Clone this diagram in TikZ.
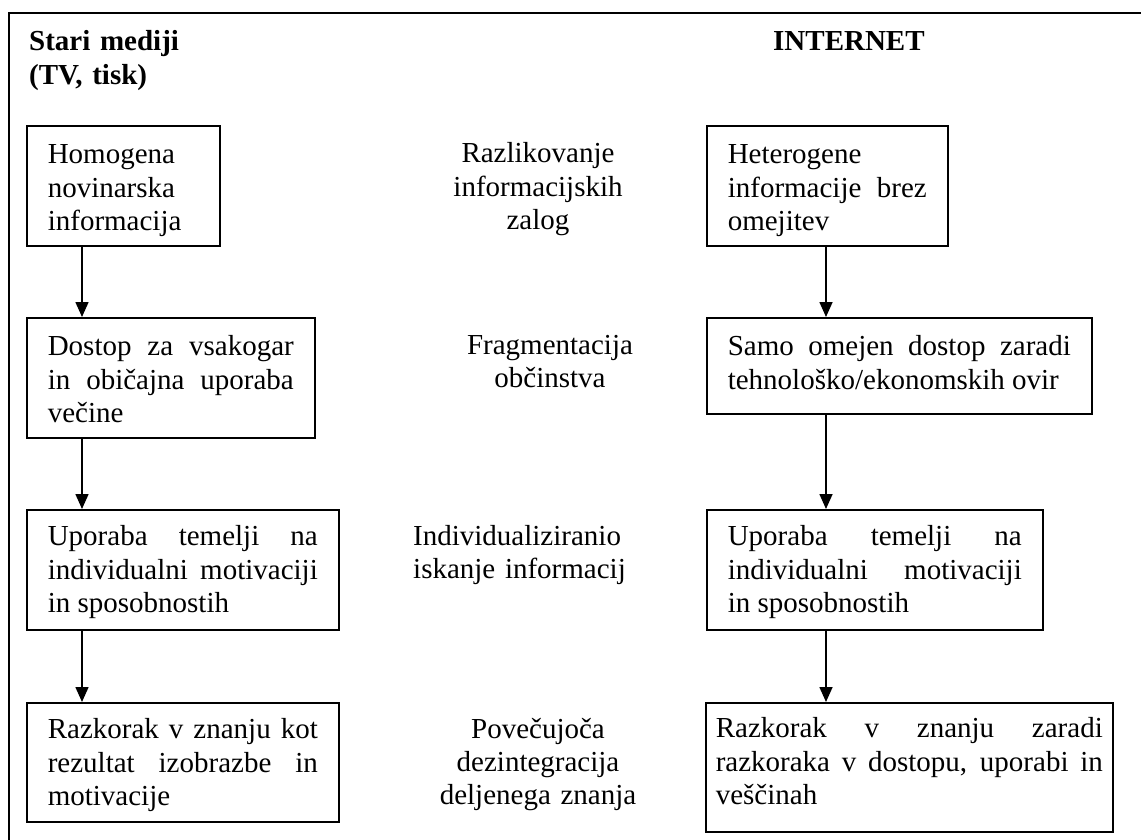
\documentclass[tikz,border=0pt]{standalone}
\usepackage{fontspec}
\setmainfont{Liberation Serif}
\usetikzlibrary{arrows.meta}
\begin{document}
\begin{tikzpicture}[x=1pt,y=-1pt,
  txt/.style={font={\fontsize{29}{33.3}\selectfont\tolerance=10000\hbadness=10000\hyphenpenalty=10000}, inner sep=0pt},
  head/.style={txt, font={\fontsize{29}{33.3}\selectfont\bfseries}, text width=250pt, align=left, anchor=base west},
  mid/.style={txt, text width=250pt, align=center, anchor=base},
  box/.style={txt, draw, line width=1.6pt, anchor=north west, inner xsep=21pt, inner ysep=0pt, align=justify},
  arr/.style={line width=1.6pt, -{Triangle[width=13pt,length=15pt]}},
  frame/.style={line width=1.6pt}
]
\useasboundingbox (0,0) rectangle (1141,840);
\draw[frame] (9,840) -- (9,13) -- (1141,13);

\node[head] (hl) at (29,51) {Stari mediji\\(TV, tisk)};
\node[head] (hr) at (773,51) {INTERNET};

% left column
\node[box, text width=151pt, text height=38pt, text depth=82pt] (L1) at (26,125)
  {Homogena\\novinarska\\informacija};
\node[box, text width=246pt, text height=38pt, text depth=82pt] (L2) at (26,317)
  {Dostop za vsakogar\linebreak in običajna uporaba\linebreak večine};
\node[box, text width=270pt, text height=36pt, text depth=84pt] (L3) at (26,509)
  {Uporaba temelji na\linebreak individualni motivaciji\linebreak in sposobnostih};
\node[box, text width=270pt, text height=36pt, text depth=83pt] (L4) at (26,702)
  {Razkorak v znanju kot\linebreak rezultat izobrazbe in\linebreak motivacije};

% right column
\node[box, text width=199pt, text height=38pt, text depth=82pt] (R1) at (706,125)
  {Heterogene\\informacije brez\linebreak omejitev};
\node[box, text width=343pt, text height=38pt, text depth=58pt] (R2) at (706,317)
  {Samo omejen dostop zaradi\linebreak tehnološko/ekonomskih ovir};
\node[box, text width=294pt, text height=36pt, text depth=84pt] (R3) at (706,509)
  {Uporaba temelji na\linebreak individualni motivaciji\linebreak in sposobnostih};
\node[box, inner xsep=10pt, text width=387pt, text height=35pt, text depth=94pt] (R4) at (705,702)
  {\rightskip=10pt Razkorak v znanju zaradi\linebreak razkoraka v dostopu, uporabi in\linebreak veščinah};

% middle labels
\node[mid] (M1) at (538,163) {Razlikovanje\\informacijskih\\zalog};
\node[mid] (M2) at (550,354) {Fragmentacija\\občinstva};
\node[txt, text width=230pt, align=left, anchor=base west] (M3) at (413,545) {Individualiziranio\\iskanje informacij};
\node[mid] (M4) at (538,738) {Povečujoča\\dezintegracija\\deljenega znanja};

% connectors
\coordinate (lx) at (82,0);
\coordinate (rx) at (826,0);
\draw[arr] (L1.south -| lx) -- (L2.north -| lx);
\draw[arr] (L2.south -| lx) -- (L3.north -| lx);
\draw[arr] (L3.south -| lx) -- (L4.north -| lx);
\draw[arr] (R1.south -| rx) -- (R2.north -| rx);
\draw[arr] (R2.south -| rx) -- (R3.north -| rx);
\draw[arr] (R3.south -| rx) -- (R4.north -| rx);
\end{tikzpicture}
\end{document}
